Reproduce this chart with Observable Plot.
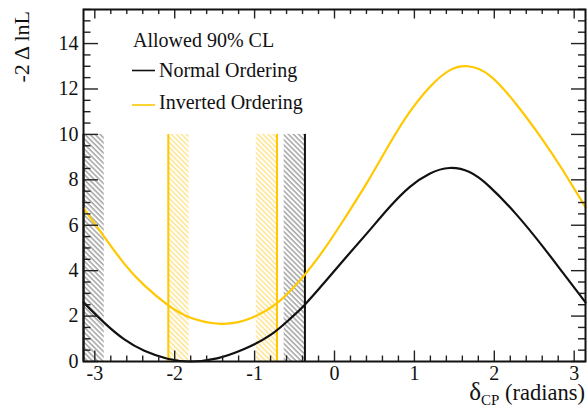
<!DOCTYPE html>
<html>
<head>
<meta charset="utf-8">
<script src="https://cdn.jsdelivr.net/npm/d3@7"></script>
<script src="https://cdn.jsdelivr.net/npm/@observablehq/plot@0.6"></script>
<style>
  html, body { margin: 0; padding: 0; background: #fff; }
  #chart svg { display: block; }
</style>
</head>
<body>
<div id="chart"></div>
<script>
// -2ΔlnL versus δCP, normal ordering
const noDelta = [-3.1416, -2.88, -2.63, -2.38, -2.09, -1.80, -1.47, -1.13, -0.80, -0.55, -0.38, -0.14, 0.11, 0.40, 0.69, 0.94, 1.19, 1.44, 1.69, 1.94, 2.27, 2.61, 2.86, 3.1416];
const noChi2  = [2.60, 1.70, 0.97, 0.47, 0.12, 0.00, 0.14, 0.55, 1.17, 1.90, 2.47, 3.42, 4.45, 5.62, 6.80, 7.68, 8.27, 8.52, 8.34, 7.70, 6.50, 5.05, 3.90, 2.60];

// -2ΔlnL versus δCP, inverted ordering
const ioDelta = [-3.1416, -2.88, -2.63, -2.38, -2.08, -1.80, -1.42, -1.05, -0.73, -0.55, -0.38, -0.14, 0.11, 0.40, 0.69, 0.94, 1.19, 1.44, 1.67, 1.94, 2.27, 2.61, 2.86, 3.1416];
const ioChi2  = [6.75, 5.48, 4.30, 3.35, 2.47, 1.93, 1.66, 1.90, 2.54, 3.13, 3.79, 4.89, 6.21, 7.83, 9.59, 10.98, 12.08, 12.82, 13.00, 12.60, 11.35, 9.74, 8.41, 6.80];

// 90% CL interval edges (lower, upper)
const noBounds = [-3.1416, -0.37];
const ioBounds = [-2.08, -0.72];
const hatchWidth = 0.26;
const bandTop = 10;

// Axis ticks
const xTicks = [-3, -2, -1, 0, 1, 2, 3];
const yTicks = [0, 2, 4, 6, 8, 10, 12, 14];
const xMinor = d3.range(-3, 3.01, 0.2).map(v => +v.toFixed(1)).filter(v => !xTicks.includes(v));
const yMinor = d3.range(0, 15.51, 0.5).filter(v => !yTicks.includes(v));

const noColor = "#111111";
const ioColor = "#ffc800";

const noCurve = noDelta.map((x, i) => ({x, y: noChi2[i]}));
const ioCurve = ioDelta.map((x, i) => ({x, y: ioChi2[i]}));

// hatched strips on the inner side of each interval edge
const strips = (bounds, ordering) => [
  {x1: bounds[0], x2: bounds[0] + hatchWidth, ordering},
  {x1: bounds[1] - hatchWidth, x2: bounds[1], ordering}
];
const noStrips = strips(noBounds, "NO");
const ioStrips = strips(ioBounds, "IO");

const W = 587, H = 417;
const mL = 83, mR = 2, mT = 9, mB = 56;
const innerW = W - mL - mR, innerH = H - mT - mB;
const tickColor = "#222";
const font = "'Liberation Serif', 'Times New Roman', serif";

const plot = Plot.plot({
  width: W,
  height: H,
  marginLeft: mL,
  marginRight: mR,
  marginTop: mT,
  marginBottom: mB,
  style: {fontFamily: font, background: "#fff", color: "#111"},
  x: {domain: [-Math.PI, Math.PI]},
  y: {domain: [0, 15.5]},
  marks: [
    Plot.rect(noStrips, {x1: "x1", x2: "x2", y1: 0, y2: bandTop, fill: "url(#hatchNO)"}),
    Plot.rect(ioStrips, {x1: "x1", x2: "x2", y1: 0, y2: bandTop, fill: "url(#hatchIO)"}),
    Plot.ruleX(ioBounds, {x: d => d, y1: 0, y2: bandTop, stroke: ioColor, strokeWidth: 2}),
    Plot.ruleX(noBounds, {x: d => d, y1: 0, y2: bandTop, stroke: noColor, strokeWidth: 2}),
    Plot.line(ioCurve, {x: "x", y: "y", stroke: ioColor, strokeWidth: 2.2, curve: "natural"}),
    Plot.line(noCurve, {x: "x", y: "y", stroke: noColor, strokeWidth: 2.2, curve: "natural"}),
    // inward ticks on all four sides
    Plot.tickX(xTicks, {x: d => d, insetTop: innerH - 10.5, stroke: tickColor, strokeWidth: 1.4}),
    Plot.tickX(xMinor, {x: d => d, insetTop: innerH - 5.5, stroke: tickColor, strokeWidth: 1.4}),
    Plot.tickX(xTicks, {x: d => d, insetBottom: innerH - 9.5, stroke: tickColor, strokeWidth: 1.4}),
    Plot.tickX(xMinor, {x: d => d, insetBottom: innerH - 5, stroke: tickColor, strokeWidth: 1.4}),
    Plot.tickY(yTicks, {y: d => d, insetRight: innerW - 15, stroke: tickColor, strokeWidth: 1.4}),
    Plot.tickY(yMinor, {y: d => d, insetRight: innerW - 7.5, stroke: tickColor, strokeWidth: 1.4}),
    Plot.tickY(yTicks, {y: d => d, insetLeft: innerW - 14, stroke: tickColor, strokeWidth: 1.4}),
    Plot.tickY(yMinor, {y: d => d, insetLeft: innerW - 7, stroke: tickColor, strokeWidth: 1.4}),
    Plot.axisX({ticks: xTicks, tickSize: 0, tickPadding: 4, fontSize: 20, tickFormat: d => String(d), label: null}),
    Plot.axisY({ticks: yTicks, tickSize: 0, tickPadding: 5, fontSize: 20, tickFormat: d => String(d), label: null}),
    Plot.frame({stroke: "#111", strokeWidth: 2})
  ]
});

const svg = d3.select(plot);

// hatch patterns for the interval strips
const defs = svg.insert("defs", ":first-child");
[["hatchNO", "#8c8c8c"], ["hatchIO", "#ffdc70"]].forEach(([id, color]) => {
  const p = defs.append("pattern")
    .attr("id", id)
    .attr("patternUnits", "userSpaceOnUse")
    .attr("width", 3.6).attr("height", 10)
    .attr("patternTransform", "rotate(-45)");
  p.append("line").attr("x1", 1).attr("y1", 0).attr("x2", 1).attr("y2", 10)
    .attr("stroke", color).attr("stroke-width", 1.2);
});

// axis titles
svg.append("text")
  .attr("transform", "translate(29,11) rotate(-90)")
  .attr("text-anchor", "end")
  .attr("font-family", font).attr("font-size", 22).attr("fill", "#111")
  .text("-2 Δ lnL");

const xt = svg.append("text")
  .attr("x", 585).attr("y", 400)
  .attr("text-anchor", "end")
  .attr("font-family", font).attr("font-size", 22.5).attr("fill", "#111");
xt.append("tspan").attr("font-size", 25).text("δ");
xt.append("tspan").attr("font-size", 15).attr("dy", 5).text("CP");
xt.append("tspan").attr("dy", -5).text(" (radians)");

// legend
const lg = svg.append("g")
  .attr("font-family", font).attr("font-size", 20).attr("fill", "#111")
  .attr("text-anchor", "start");
lg.append("text").attr("x", 133).attr("y", 47).text("Allowed 90% CL");
lg.append("line").attr("x1", 132).attr("x2", 155).attr("y1", 70.5).attr("y2", 70.5)
  .attr("stroke", noColor).attr("stroke-width", 1.6);
lg.append("text").attr("x", 159).attr("y", 77).text("Normal Ordering");
lg.append("line").attr("x1", 132).attr("x2", 155).attr("y1", 105).attr("y2", 105)
  .attr("stroke", ioColor).attr("stroke-width", 1.6);
lg.append("text").attr("x", 159).attr("y", 109).text("Inverted Ordering");

document.getElementById("chart").appendChild(plot);
</script>
</body>
</html>
